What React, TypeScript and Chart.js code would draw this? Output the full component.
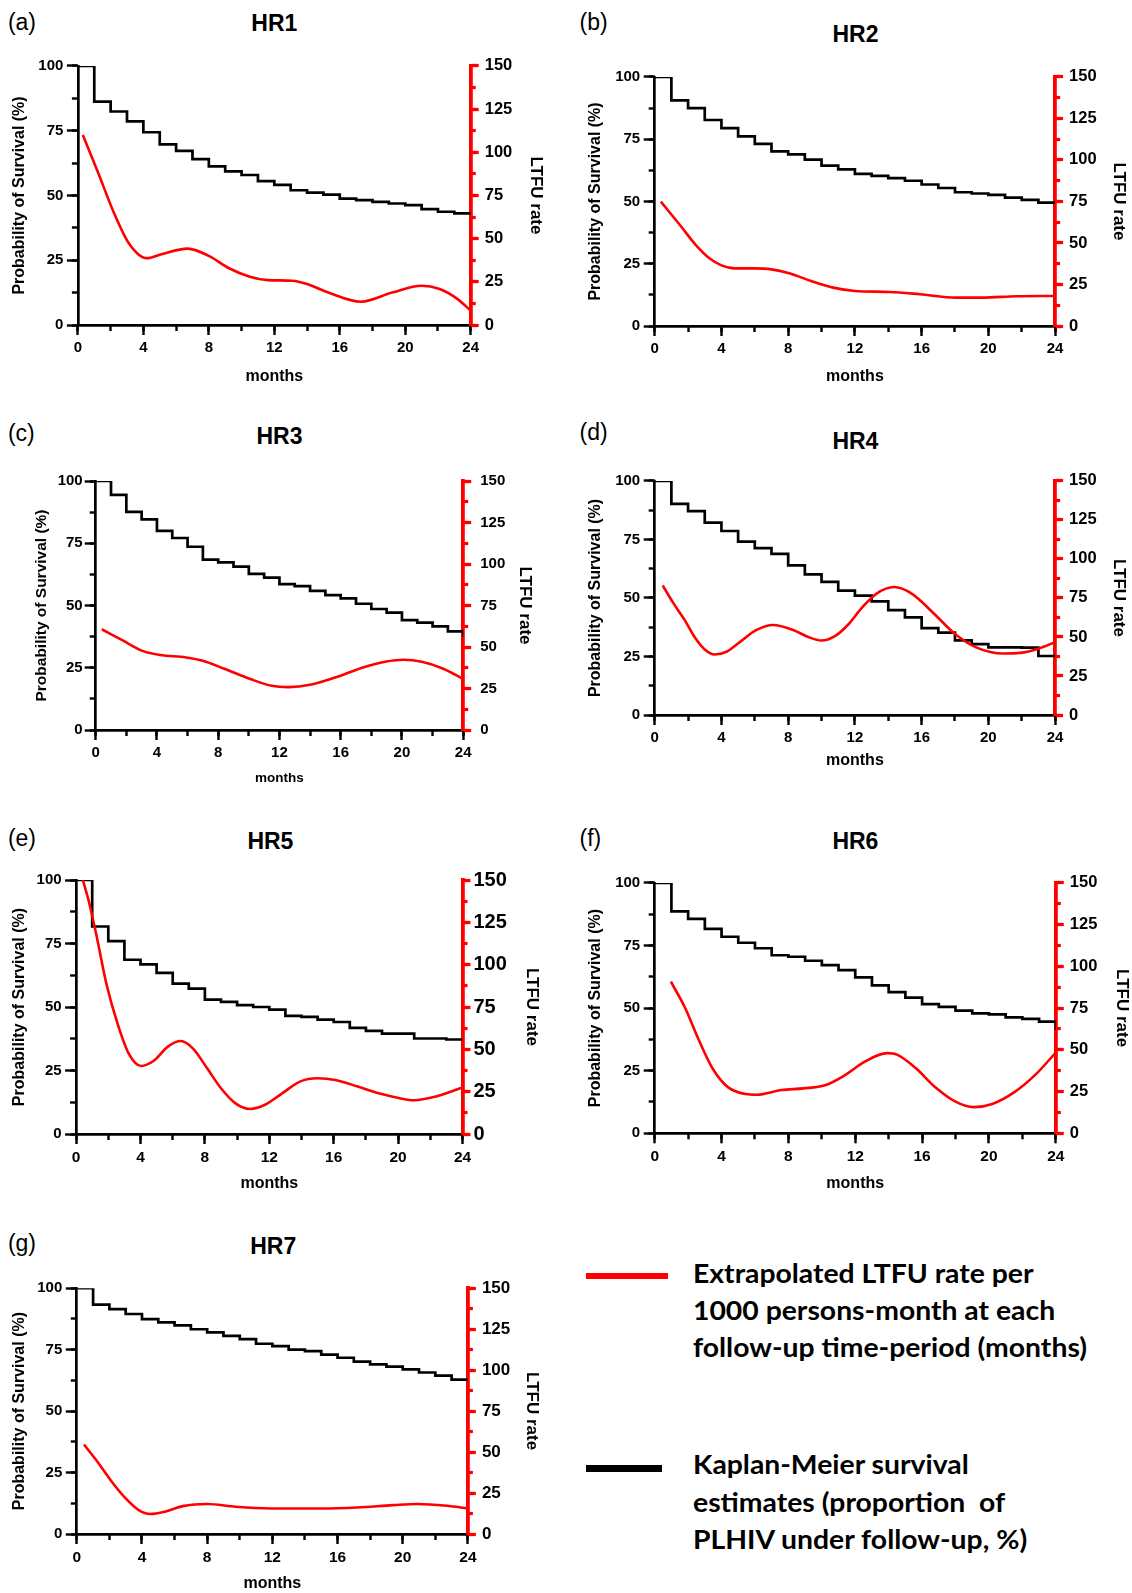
import React, { useEffect, useRef } from 'react';
import { Chart, registerables } from 'chart.js';
Chart.register(...registerables);

// ---------- DATA ----------
const kmMonths = [0, 1, 2, 3, 4, 5, 6, 7, 8, 9, 10, 11, 12, 13, 14, 15, 16, 17, 18, 19, 20, 21, 22, 23, 24];
const xMajorStep = 4;
const xMinorStep = 2;
const yMajorStep = 25;
const yMinorStep = 12.5;

const hr1Km = [100, 86.2, 82.4, 78.6, 74.4, 69.7, 67.2, 64.0, 61.2, 59.3, 57.9, 55.5, 54.1, 52.0, 51.1, 50.3, 48.8, 48.2, 47.5, 46.9, 46.3, 44.7, 43.7, 43.1, 43.1];
const hr1LtfuMonths = [0.3, 1.2, 2.2, 3.1, 4.2, 5.1, 6.7, 8.0, 9.2, 10.5, 11.6, 13.1, 14.0, 15.3, 17.3, 19.2, 21.0, 22.1, 23.2, 24];
const hr1Ltfu = [110, 89, 65, 47.5, 38.7, 41, 44.2, 40, 33, 28, 26, 25.6, 23.7, 18.8, 13.5, 18.8, 22.7, 20.8, 15, 8.3];

const hr2Km = [100, 90.6, 87.5, 82.7, 79.4, 76.1, 73.1, 70.1, 68.9, 66.8, 64.4, 62.9, 61.1, 60.3, 59.4, 58.3, 56.8, 55.4, 53.7, 53.2, 52.6, 51.5, 50.6, 49.5, 49.5];
const hr2LtfuMonths = [0.37, 1.56, 2.43, 3.3, 4.0, 4.8, 5.9, 7.0, 8.07, 9.37, 10.7, 12, 14.1, 15.9, 18.05, 19.6, 21.7, 24];
const hr2Ltfu = [74.9, 60.2, 49.2, 40.6, 36.5, 34.7, 34.7, 34.1, 31.7, 27.1, 23.1, 21.1, 20.5, 19.1, 17.1, 17.1, 17.9, 18.1];

const hr3Km = [100, 94.4, 87.6, 84.6, 80.0, 77.1, 73.6, 68.4, 67.3, 65.6, 62.7, 61.2, 58.6, 57.8, 55.9, 54.2, 52.9, 50.7, 48.6, 47.1, 44.1, 43.1, 41.6, 39.6, 37.5];
const hr3LtfuMonths = [0.4, 1.7, 3.1, 4.2, 5.9, 7.0, 8.4, 10.1, 11.5, 12.6, 14.0, 15.9, 17.5, 18.9, 20.1, 21.3, 22.7, 24];
const hr3Ltfu = [60.7, 54.3, 47.5, 45.2, 43.7, 41.7, 36.9, 30.7, 26.6, 25.8, 27.2, 32.4, 37.8, 41.1, 42.3, 41.1, 36.9, 30.7];

const hr4Km = [100, 90.2, 87.1, 82.2, 78.6, 74.1, 71.3, 68.8, 63.9, 60.1, 56.9, 53.1, 51.0, 48.5, 44.8, 41.7, 37.1, 35.2, 31.9, 30.3, 28.9, 28.9, 28.8, 25.2, 25.2];
const hr4LtfuMonths = [0.48, 1.1, 1.8, 2.4, 3.0, 3.6, 4.3, 5.1, 6.1, 7.1, 8.3, 9.2, 10.0, 10.8, 11.6, 12.4, 13.3, 14.35, 15.4, 16.7, 18.0, 19.3, 20.9, 21.9, 23.0, 24];
const hr4Ltfu = [83, 72, 60.8, 49.8, 42, 38.8, 40.5, 46.7, 54.5, 57.7, 54.5, 50, 47.7, 50.5, 58, 68.5, 77.8, 82, 77.8, 65.4, 51.9, 43.2, 39.4, 39.8, 42.5, 46.7];

const hr5Km = [100, 81.7, 75.9, 68.6, 66.8, 63.4, 59.2, 57.2, 52.9, 52.0, 50.7, 50.0, 49.0, 46.5, 46.1, 45.0, 44.1, 41.8, 40.6, 39.5, 39.5, 37.6, 37.6, 37.2, 37.2];
const hr5LtfuMonths = [0.42, 0.8, 1.26, 1.9, 2.6, 3.26, 4.04, 4.8, 5.7, 6.5, 7.25, 8.14, 9.0, 9.9, 10.8, 11.7, 12.8, 13.9, 15.0, 16.1, 17.5, 18.8, 20.1, 21.0, 22.3, 24];
const hr5Ltfu = [150, 137, 117.5, 88, 64.4, 47.6, 40.2, 43.1, 51.6, 54.9, 50.6, 38.8, 27, 18.1, 14.8, 17.1, 24, 30.9, 32.9, 31.9, 28, 24, 21.1, 19.9, 22, 27.4];

const hr6Km = [100, 88.6, 85.6, 81.6, 78.5, 76.1, 73.9, 71.1, 70.5, 68.9, 67.2, 65.2, 62.3, 59.1, 56.4, 54.2, 51.6, 50.5, 49.0, 47.9, 47.5, 46.3, 45.7, 44.6, 41.3];
const hr6LtfuMonths = [0.97, 1.8, 2.64, 3.5, 4.4, 5.45, 6.1, 7.6, 8.9, 10.2, 11.3, 12.6, 13.9, 14.5, 15.6, 16.7, 18.0, 19.1, 20.2, 21.5, 22.8, 24];
const hr6Ltfu = [90.8, 75.5, 55.9, 38.2, 27.5, 23.5, 23.1, 25.9, 26.9, 28.8, 34.3, 43.1, 48, 47.1, 39.2, 28.4, 19, 15.7, 17.6, 24.5, 35.3, 48.4];

const hr7Km = [100, 93.3, 91.5, 89.5, 87.4, 86.1, 84.9, 83.3, 82.0, 80.6, 79.3, 77.4, 76.4, 75.0, 74.4, 73.0, 71.7, 70.1, 69.0, 68.1, 67.0, 65.7, 64.4, 62.8, 62.8];
const hr7LtfuMonths = [0.44, 1.2, 2.1, 3.0, 3.8, 4.5, 5.4, 6.5, 8.0, 9.75, 11.9, 15.0, 17.2, 19.4, 20.9, 22.7, 24];
const hr7Ltfu = [54.6, 45, 32.5, 21.7, 14.6, 12.2, 13.6, 17, 18.3, 16.6, 15.6, 15.6, 16.2, 17.6, 18.3, 17.2, 15.6];

const panelTitles = ['HR1', 'HR2', 'HR3', 'HR4', 'HR5', 'HR6', 'HR7'];
const panelLetters = ['(a)', '(b)', '(c)', '(d)', '(e)', '(f)', '(g)'];
const xAxisTitle = 'months';
const leftAxisTitle = 'Probability of Survival (%)';
const rightAxisTitle = 'LTFU rate';
const legendRed = ['Extrapolated LTFU rate per', '1000 persons-month at each', 'follow-up time-period (months)'];
const legendBlack = ['Kaplan-Meier survival', 'estimates (proportion\u00a0 of', 'PLHIV under follow-up, %)'];

// ---------- LAYOUT / STYLE ----------
const RED = '#ff0000';
const FONT = "'Liberation Sans', Arial, sans-serif";

type Layout = {
  x0: number; x1: number; yT: number; yB: number;
  lw: number; rw: number; bh: number; tp: number;
  yTitle: number; xTitle: number; rTitle: number;
  tick: number; rTick: number; xTick: number; yPad: number; rPad: number;
  titleCx: number; titleCy: number; letterX: number; letterCy: number;
};

const layouts: Layout[] = [
  { x0: 77.9, x1: 470.7, yT: 62, yB: 325, lw: 71.9, rw: 79.2, bh: 64.6, tp: 12, yTitle: 16, xTitle: 16, rTitle: 17, tick: 15, rTick: 16.5, xTick: 15, yPad: 3.5, rPad: 6, titleCx: 274.3, titleCy: 23.5, letterX: 7.9, letterCy: 24.2 },
  { x0: 654.7, x1: 1055.1, yT: 72.5, yB: 326, lw: 72.6, rw: 77.4, bh: 63.6, tp: 12, yTitle: 16, xTitle: 16, rTitle: 17, tick: 15, rTick: 16.5, xTick: 15, yPad: 3.5, rPad: 6, titleCx: 855.5, titleCy: 33.8, letterX: 579.5, letterCy: 24.2 },
  { x0: 95.7, x1: 463.2, yT: 475, yB: 730, lw: 67.9, rw: 76, bh: 60.4, tp: 12, yTitle: 15.5, xTitle: 13.5, rTitle: 17, tick: 15, rTick: 15, xTick: 15, yPad: 2, rPad: 9, titleCx: 279.5, titleCy: 436.3, letterX: 7.9, letterCy: 435.8 },
  { x0: 654.7, x1: 1055.1, yT: 476.7, yB: 715, lw: 72.6, rw: 77.4, bh: 58.6, tp: 12, yTitle: 16, xTitle: 16, rTitle: 17, tick: 15, rTick: 16.5, xTick: 15, yPad: 3.5, rPad: 6, titleCx: 855.4, titleCy: 441.3, letterX: 579.5, letterCy: 434.2 },
  { x0: 76.1, x1: 462.5, yT: 879.3, yB: 1134, lw: 70.1, rw: 83.8, bh: 62.9, tp: 14, yTitle: 16, xTitle: 16, rTitle: 17, tick: 15, rTick: 20, xTick: 15.5, yPad: 3.5, rPad: 3, titleCx: 270.4, titleCy: 841.3, letterX: 7.9, letterCy: 840.8 },
  { x0: 654.7, x1: 1055.8, yT: 879.3, yB: 1133.3, lw: 72.6, rw: 80.4, bh: 63.6, tp: 12, yTitle: 16, xTitle: 16, rTitle: 17, tick: 15, rTick: 16.5, xTick: 15.5, yPad: 3.5, rPad: 6, titleCx: 855.4, titleCy: 841.3, letterX: 579.5, letterCy: 840.8 },
  { x0: 76.8, x1: 467.9, yT: 1284.3, yB: 1534, lw: 70.8, rw: 78.4, bh: 62.9, tp: 12, yTitle: 16, xTitle: 16, rTitle: 17, tick: 15, rTick: 17, xTick: 15.5, yPad: 3.5, rPad: 6, titleCx: 273.2, titleCy: 1246.3, letterX: 7.9, letterCy: 1245.8 },
];

const kmSeries = [hr1Km, hr2Km, hr3Km, hr4Km, hr5Km, hr6Km, hr7Km];
const ltfuMonthSeries = [hr1LtfuMonths, hr2LtfuMonths, hr3LtfuMonths, hr4LtfuMonths, hr5LtfuMonths, hr6LtfuMonths, hr7LtfuMonths];
const ltfuSeries = [hr1Ltfu, hr2Ltfu, hr3Ltfu, hr4Ltfu, hr5Ltfu, hr6Ltfu, hr7Ltfu];

const AXIS_W = 2.7;

function minorAxis(position: string, max: number, step: number, len: number, color: string, width: number, fit: 'w' | 'h') {
  return {
    type: 'linear', position, min: 0, max, weight: 0,
    afterFit: (s: any) => { if (fit === 'w') s.width = 0; else s.height = 0; },
    border: { display: false },
    grid: { drawOnChartArea: false, drawTicks: true, tickLength: len, tickWidth: width, tickColor: color },
    ticks: { display: false, stepSize: step, autoSkip: false },
  };
}

function Panel({ idx }: { idx: number }) {
  const ref = useRef<HTMLCanvasElement>(null);
  const L = layouts[idx];
  const left = Math.round(L.x0 - L.lw);
  const top = Math.round(L.yT - L.tp);
  const right = Math.round(L.x1 + L.rw);
  const bottom = Math.round(L.yB + L.bh);
  const lw = L.x0 - left;
  const tp = L.yT - top;
  const rw = right - L.x1;
  const bh = bottom - L.yB;
  const w = right - left;
  const h = bottom - top;

  useEffect(() => {
    if (!ref.current) return;
    const km = kmSeries[idx];
    const lx = ltfuMonthSeries[idx];
    const ly = ltfuSeries[idx];
    const chart = new Chart(ref.current, {
      type: 'line',
      data: {
        datasets: [
          {
            data: lx.map((x, i) => ({ x, y: ly[i] })),
            yAxisID: 'y1',
            borderColor: RED,
            borderWidth: 2.6,
            pointRadius: 0,
            cubicInterpolationMode: 'monotone',
            fill: false,
          },
          {
            data: kmMonths.map((x, i) => ({ x, y: km[i] })),
            yAxisID: 'y',
            borderColor: '#000',
            borderWidth: 2.7,
            pointRadius: 0,
            stepped: true,
            fill: false,
          },
        ],
      },
      options: {
        responsive: false,
        animation: false,
        devicePixelRatio: 1,
        layout: { padding: { top: tp, left: 0, right: 0, bottom: 0 } },
        plugins: { legend: { display: false }, tooltip: { enabled: false }, title: { display: false } },
        scales: {
          x: {
            type: 'linear', position: 'bottom', min: 0, max: 24, weight: 1,
            afterFit: (s: any) => { s.height = bh; },
            border: { display: true, color: '#000', width: AXIS_W },
            grid: { drawOnChartArea: false, drawTicks: true, tickLength: 10, tickWidth: 2.4, tickColor: '#000' },
            ticks: {
              stepSize: xMajorStep, autoSkip: false, maxRotation: 0, padding: 4, color: '#000',
              font: { family: FONT, weight: 'bold', size: L.xTick },
            },
            title: { display: true, text: xAxisTitle, color: '#000', font: { family: FONT, weight: 'bold', size: L.xTitle }, padding: { top: 0, bottom: 4 } },
          },
          xMinor: minorAxis('bottom', 24, xMinorStep, 6, '#000', 2.4, 'h'),
          y: {
            type: 'linear', position: 'left', min: 0, max: 100, weight: 1,
            afterFit: (s: any) => { s.width = lw; },
            border: { display: true, color: '#000', width: AXIS_W },
            grid: { drawOnChartArea: false, drawTicks: true, tickLength: 11, tickWidth: 2.4, tickColor: '#000' },
            ticks: {
              stepSize: yMajorStep, autoSkip: false, padding: L.yPad, color: '#000',
              font: { family: FONT, weight: 'bold', size: L.tick },
            },
            title: { display: true, text: leftAxisTitle, color: '#000', font: { family: FONT, weight: 'bold', size: L.yTitle }, padding: { top: 4, bottom: 0 } },
          },
          yMinor: minorAxis('left', 100, yMinorStep, 6, '#000', 2.4, 'w'),
          y1: {
            type: 'linear', position: 'right', min: 0, max: 150, weight: 1,
            afterFit: (s: any) => { s.width = rw; },
            border: { display: true, color: RED, width: 3.8 },
            grid: { drawOnChartArea: false, drawTicks: true, tickLength: 8, tickWidth: 3.2, tickColor: RED },
            ticks: {
              stepSize: yMajorStep, autoSkip: false, padding: L.rPad, color: '#000',
              font: { family: FONT, weight: 'bold', size: L.rTick },
            },
            title: { display: true, text: rightAxisTitle, color: '#000', font: { family: FONT, weight: 'bold', size: L.rTitle }, padding: { top: 4, bottom: 0 } },
          },
          y1Minor: minorAxis('right', 150, yMinorStep, 5, RED, 3.2, 'w'),
        },
      } as any,
    });
    return () => chart.destroy();
  }, []);

  return (
    <>
      <canvas ref={ref} width={w} height={h} style={{ position: 'absolute', left, top, width: w, height: h }} />
      <div style={{ position: 'absolute', left: L.titleCx - 60, width: 120, top: L.titleCy - 0.49 * 23, fontFamily: FONT, fontWeight: 'bold', fontSize: 23, lineHeight: '23px', textAlign: 'center', color: '#000' }}>
        {panelTitles[idx]}
      </div>
      <div style={{ position: 'absolute', left: L.letterX, top: L.letterCy - 0.586 * 23, fontFamily: FONT, fontSize: 23, lineHeight: '23px', color: '#000' }}>
        {panelLetters[idx]}
      </div>
    </>
  );
}

function Legend() {
  const textStyle: React.CSSProperties = {
    position: 'absolute', left: 692.5, fontFamily: 'Lato, Carlito, Calibri, sans-serif', fontWeight: 700,
    fontSize: 26, lineHeight: '37.2px', color: '#000', whiteSpace: 'nowrap',
    transform: 'scaleX(1.09)', transformOrigin: '0 0',
  };
  return (
    <>
      <div style={{ position: 'absolute', left: 585.5, top: 1272.7, width: 82, height: 6.7, background: RED }} />
      <div style={{ ...textStyle, top: 1254.6 }}>
        {legendRed.map((t, i) => (<div key={i}>{t}</div>))}
      </div>
      <div style={{ position: 'absolute', left: 585.5, top: 1465, width: 76.7, height: 6.7, background: '#000' }} />
      <div style={{ ...textStyle, top: 1446.3 }}>
        {legendBlack.map((t, i) => (<div key={i}>{t}</div>))}
      </div>
    </>
  );
}

export default function App() {
  return (
    <div style={{ position: 'absolute', left: 0, top: 0, width: 1132, height: 1593, overflow: 'hidden', background: '#fff' }}>
      {layouts.map((_, i) => (<Panel key={i} idx={i} />))}
      <Legend />
    </div>
  );
}
